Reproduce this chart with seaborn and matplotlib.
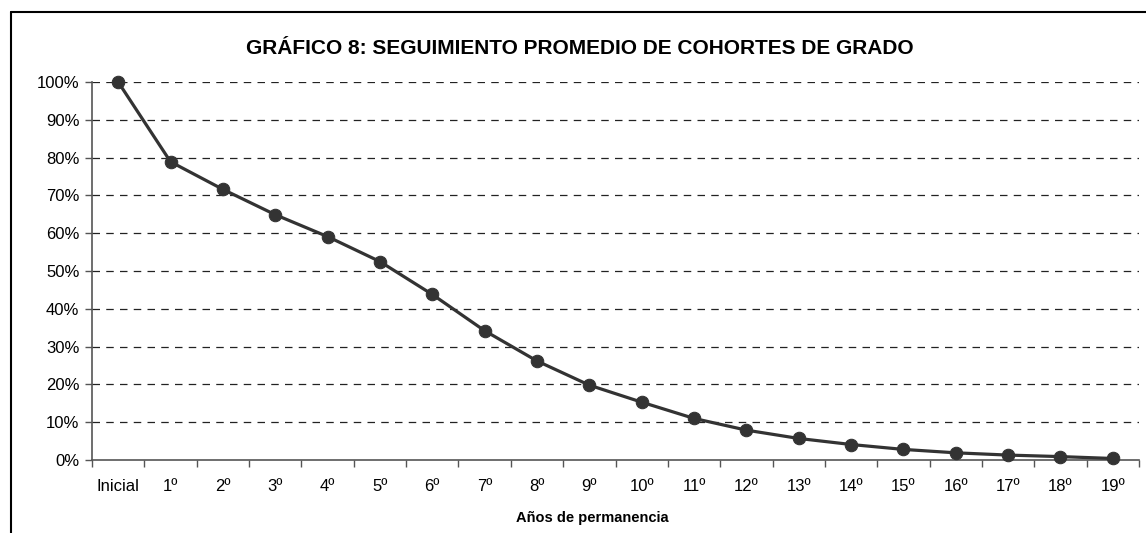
import matplotlib
matplotlib.use('Agg')
import matplotlib.pyplot as plt
from matplotlib.lines import Line2D
from matplotlib.ticker import FixedLocator, PercentFormatter
import pandas as pd
import seaborn as sns

sns.set_theme(style='white')
plt.rcParams['font.family'] = ['Liberation Sans', 'DejaVu Sans']
plt.rcParams['text.color'] = 'black'

# Datos
anios = ['Inicial', '1º', '2º', '3º', '4º', '5º', '6º', '7º', '8º', '9º',
         '10º', '11º', '12º', '13º', '14º', '15º', '16º', '17º', '18º', '19º']
porcentaje = [100.0, 78.9, 71.6, 64.9, 59.1, 52.5, 43.8, 34.2, 26.2, 19.8,
              15.3, 11.0, 7.9, 5.7, 4.1, 2.8, 1.9, 1.3, 0.9, 0.4]

df = pd.DataFrame({'anio': anios, 'pct': porcentaje})

fig = plt.figure(figsize=(11.46, 5.33), dpi=100)
ax = fig.add_axes([92 / 1146, 1 - 460 / 533, (1139 - 92) / 1146, (460 - 82) / 533])

sns.lineplot(data=df, x='anio', y='pct', ax=ax, color='#333333', linewidth=2.3,
             marker='o', markersize=9, markeredgecolor='#333333', clip_on=False, zorder=5)

ax.set_xlim(-0.5, len(anios) - 0.5)
ax.set_ylim(0, 100)
ax.yaxis.set_major_locator(FixedLocator(range(0, 101, 10)))
ax.yaxis.set_major_formatter(PercentFormatter(decimals=0))

# rejilla discontinua
for v in range(10, 101, 10):
    ax.axhline(v, color='#222222', linewidth=0.9, linestyle=(0, (6, 5)), zorder=1)

ax.set_xticks(range(len(anios)))
ax.set_xticklabels(anios)
ax.set_xticks([i - 0.5 for i in range(len(anios) + 1)], minor=True)
ax.tick_params(axis='x', which='major', length=0, pad=14, labelsize=12, labelcolor='black')
ax.tick_params(axis='x', which='minor', length=5, width=1, color='#555555', bottom=True)
ax.tick_params(axis='y', which='major', length=5, width=1, color='#555555', left=True,
               labelsize=12, labelcolor='black', pad=4)

for s in ['top', 'right']:
    ax.spines[s].set_visible(False)
for s in ['left', 'bottom']:
    ax.spines[s].set_color('#555555')
    ax.spines[s].set_linewidth(1.2)

ax.set_ylabel('')
ax.set_xlabel('')
fig.text(592 / 1146, 1 - 518 / 533, 'Años de permanencia', ha='center', va='center',
         fontsize=10.5, fontweight='bold')

fig.text(580 / 1146, 1 - 48 / 533, 'GRÁFICO 8: SEGUIMIENTO PROMEDIO DE COHORTES DE GRADO',
         ha='center', va='center', fontsize=15, fontweight='bold')

# marco exterior (recortado)
fig.add_artist(Line2D([11 / 1146, 11 / 1146], [0, 1 - 12 / 533], color='black', linewidth=1.5))
fig.add_artist(Line2D([11 / 1146, 1], [1 - 12 / 533, 1 - 12 / 533], color='black', linewidth=1.5))

fig.savefig('out.png', dpi=100)
